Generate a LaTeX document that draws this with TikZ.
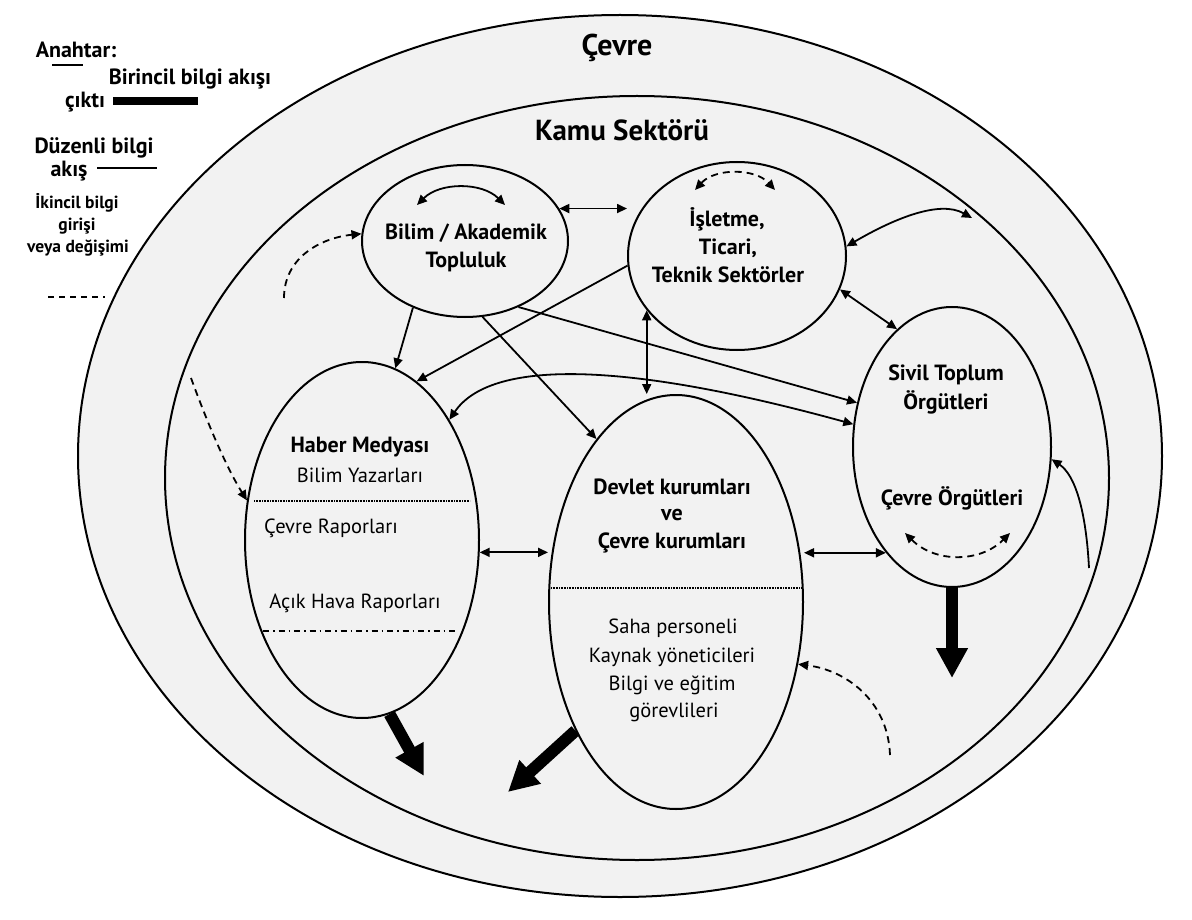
\documentclass[tikz,border=0pt]{standalone}
\usepackage{fontspec}
\setmainfont{PT Sans}
\usetikzlibrary{shapes.geometric,arrows.meta}
\definecolor{bg}{RGB}{242,242,242}
\begin{document}
\begin{tikzpicture}[x=1pt,y=-1pt,
  >={Triangle[length=10pt,width=9pt]},
  ell/.style={ellipse, draw, line width=2pt, fill=bg, inner sep=0pt},
  bt/.style={font=\fontsize{22}{26}\selectfont\bfseries, inner sep=0pt},
  rt/.style={font=\fontsize{20.5}{24}\selectfont, inner sep=0pt},
  lt/.style={font=\fontsize{22}{26}\selectfont\bfseries, inner sep=0pt},
  st/.style={font=\fontsize{17.5}{21}\selectfont\bfseries, inner sep=0pt},
  flow/.style={line width=1.8pt},
  sec/.style={line width=1.8pt, dash pattern=on 7pt off 5pt},
  big/.style={line width=12pt, -{Triangle[length=30pt,width=30pt]}}
]
\useasboundingbox (0,0) rectangle (1192,920);
% containers
\node[ell, minimum width=1084pt, minimum height=882pt] (env) at (620,456) {};
\node[ell, minimum width=944pt, minimum height=764pt] (kamu) at (637,478) {};
\node[font=\fontsize{30}{36}\selectfont\bfseries, inner sep=0pt] (tenv) at (617,48) {Çevre};
\node[font=\fontsize{29}{34}\selectfont\bfseries, inner sep=0pt] (tkamu) at (622,130) {Kamu Sektörü};
% main ellipses
\node[ell, minimum width=206pt, minimum height=152pt] (bilim) at (465,241) {};
\node[ell, minimum width=218pt, minimum height=188pt] (isletme) at (737,256) {};
\node[ell, minimum width=234pt, minimum height=356pt] (haber) at (362,540) {};
\node[ell, minimum width=254pt, minimum height=414pt] (devlet) at (676,602) {};
\node[ell, minimum width=198pt, minimum height=280pt] (sivil) at (952,447) {};
% texts
\node[bt] (b1) at (466,233) {Bilim / Akademik};
\node[bt] (b2) at (466,262) {Topluluk};
\node[bt] (i1) at (727,219) {İşletme,};
\node[bt] (i2) at (728,248) {Ticari,};
\node[bt] (i3) at (728,275) {Teknik Sektörler};
\node[bt] (h1) at (360,447) {Haber Medyası};
\node[rt] (h2) at (360,475) {Bilim Yazarları};
\node[rt] (h3) at (331,528) {Çevre Raporları};
\node[rt] (h4) at (355,603) {Açık Hava Raporları};
\node[bt] (d1) at (672,487) {Devlet kurumları};
\node[bt] (d2) at (672,515) {ve};
\node[bt] (d3) at (672,543) {Çevre kurumları};
\node[rt] (d4) at (673,628) {Saha personeli};
\node[rt] (d5) at (672,657) {Kaynak yöneticileri};
\node[rt] (d6) at (672,685) {Bilgi ve eğitim};
\node[rt] (d7) at (674,712) {görevlileri};
\node[bt] (s1) at (946,375) {Sivil Toplum};
\node[bt] (s2) at (946,402) {Örgütleri};
\node[bt] (s3) at (952,498) {Çevre Örgütleri};
% separators
\draw[line width=1.4pt, dash pattern=on 1pt off 0.6pt] (254,501) -- (470,501);
\draw[line width=1.4pt, dash pattern=on 6pt off 4pt on 1.5pt off 4pt] (263,631) -- (455,631);
\draw[line width=1.4pt, dash pattern=on 1pt off 0.6pt] (551,588) -- (802,588);
% legend
\node[lt] (k0) at (76,50) {Anahtar:};
\draw[line width=1.2pt] (52,65) -- (83,65);
\node[lt] (k1) at (190,79) {Birincil bilgi akışı};
\node[lt] (k2) at (85,102) {çıktı};
\draw[line width=8pt] (113,101) -- (198,101);
\node[lt] (k3) at (94,148) {Düzenli bilgi};
\node[lt] (k4) at (69,171) {akış};
\draw[line width=1.6pt] (97,168) -- (157,168);
\node[st] (k5) at (77,203) {İkincil bilgi};
\node[st] (k6) at (77,226) {girişi};
\node[st] (k7) at (78,248) {veya değişimi};
\draw[line width=1.6pt, dash pattern=on 6pt off 5pt] (48,297) -- (105,297);
% free ends
\coordinate (ba) at (417,205);
\coordinate (bb) at (505,205);
\coordinate (ia) at (695,190);
\coordinate (ib) at (775,190);
\coordinate (sa) at (905,533);
\coordinate (sb) at (1010,533);
\coordinate (ie) at (972,218);
\coordinate (sf) at (1089,568);
\coordinate (q1) at (284,298);
\coordinate (q2) at (191,378);
\coordinate (q3) at (890,755);
\coordinate (ht) at (424,776);
\coordinate (dt) at (508,792);
\coordinate (st) at (952,678);
% regular flows
\draw[flow,<->] (ba) .. controls (440,182) and (482,182) .. (bb);
\draw[sec,<->] (ia) .. controls (715,168) and (755,168) .. (ib);
\draw[sec,<->] (sa) .. controls (935,563) and (980,563) .. (sb);
\draw[flow,<->] (bilim.19) -- (bilim.19 -| isletme.west);
\draw[flow,<->] (isletme.5) .. controls (895,218) and (940,200) .. (ie);
\draw[flow,<->] (isletme.-18) -- (sivil.115);
\draw[flow,->] (bilim.232) -- (haber.79);
\draw[flow,->] (isletme.185) -- (haber.71);
\draw[flow,->] (bilim.-77) -- (devlet.116);
\draw[flow,->] (bilim.-51) -- (sivil.155);
\draw[flow,<->] (haber.54) .. controls (490,360) and (620,360) .. (sivil.167);
\draw[flow,<->] (isletme.211) -- (isletme.211 |- devlet.north);
\draw[flow,<->] (haber.-6) -- (haber.-6 -| devlet.west);
\draw[flow,<->] (sivil.238) -- (sivil.238 -| devlet.east);
\draw[flow,->] (sf) .. controls (1086,510) and (1075,475) .. (sivil.-7);
% secondary
\draw[sec,->] (q1) .. controls (284,258) and (320,238) .. (bilim.176);
\draw[sec,->] (q2) .. controls (210,430) and (228,470) .. (haber.161);
\draw[sec,->] (q3) .. controls (888,700) and (845,670) .. (devlet.-27);
% outputs
\draw[big] (haber.-81) -- (ht);
\draw[big] (devlet.232) -- (dt);
\draw[big] (sivil.south) -- (st);
\end{tikzpicture}
\end{document}
